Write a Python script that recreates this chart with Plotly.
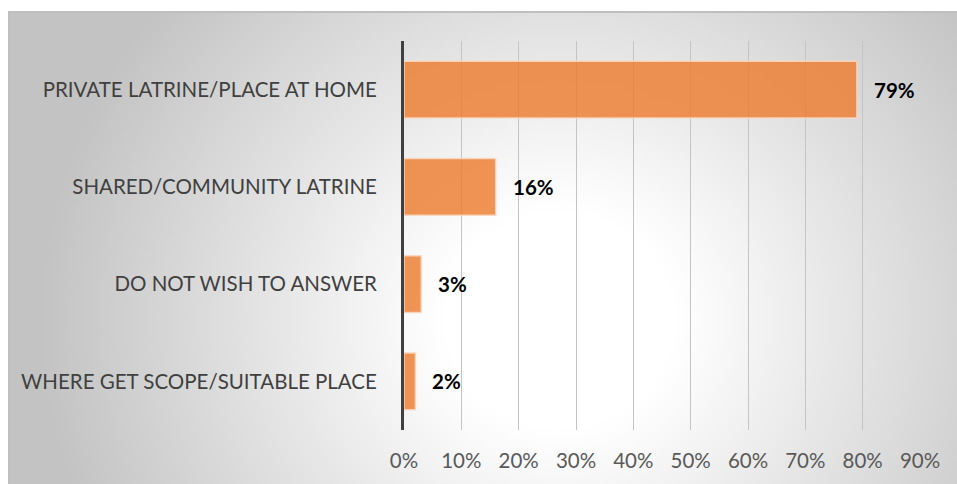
import base64
import plotly.graph_objects as go

# Survey responses: where household members go to the toilet
categories = [
    "PRIVATE LATRINE/PLACE AT HOME",
    "SHARED/COMMUNITY LATRINE",
    "DO NOT WISH TO ANSWER",
    "WHERE GET SCOPE/SUITABLE PLACE",
]
shares = [79, 16, 3, 2]  # percent of respondents
x_ticks = [0, 10, 20, 30, 40, 50, 60, 70, 80, 90]
x_tick_labels = [f"{v}%" for v in x_ticks]

W, H = 957, 484
ML, MR, MT, MB = 404, 37, 41, 54
PW, PH = W - ML - MR, H - MT - MB
FONT = "Lato"

# Chart-area backdrop: radial grey-to-white fill with a thin frame
svg = f"""<svg xmlns='http://www.w3.org/2000/svg' width='{W}' height='{H}' viewBox='0 0 {W} {H}' preserveAspectRatio='none'>
<defs>
<radialGradient id='g' gradientUnits='userSpaceOnUse' cx='560' cy='320' r='520'
  gradientTransform='translate(560 320) scale(1 0.95) translate(-560 -320)'>
<stop offset='0' stop-color='#ffffff'/>
<stop offset='0.22' stop-color='#ffffff'/>
<stop offset='1' stop-color='#c3c3c3'/>
</radialGradient>
</defs>
<rect x='0' y='0' width='{W}' height='{H}' fill='#ffffff'/>
<rect x='9' y='12' width='{W}' height='{H}' fill='url(#g)'/>
<line x1='9' y1='12' x2='{W}' y2='12' stroke='#bfbfbf' stroke-width='2'/>
<line x1='9' y1='11' x2='9' y2='{H}' stroke='#bfbfbf' stroke-width='2'/>
</svg>"""
bg_src = "data:image/svg+xml;base64," + base64.b64encode(svg.encode()).decode()

fig = go.Figure(
    go.Bar(
        x=shares,
        y=categories,
        orientation="h",
        marker=dict(
            color="rgba(237,125,49,0.82)",
            line=dict(color="rgba(250,215,190,0.9)", width=1.5),
        ),
        hoverinfo="skip",
    )
)

for cat, val in zip(categories, shares):
    fig.add_annotation(
        x=val, y=cat, text=f"{val}%", showarrow=False,
        xanchor="left", yanchor="middle", xshift=15,
        font=dict(family=FONT, size=20.5, color="#000000", weight="bold"),
    )

fig.add_layout_image(
    source=bg_src, xref="paper", yref="paper",
    x=-ML / PW, y=1 + MT / PH, sizex=W / PW, sizey=H / PH,
    xanchor="left", yanchor="top", sizing="stretch", layer="below",
)

fig.update_layout(
    width=W, height=H,
    margin=dict(l=ML, r=MR, t=MT, b=MB, pad=0),
    paper_bgcolor="white",
    plot_bgcolor="rgba(0,0,0,0)",
    bargap=0.415,
    showlegend=False,
    font=dict(family=FONT, size=20.5, color="#404040"),
    xaxis=dict(
        range=[0, 90], tickmode="array", tickvals=x_ticks, ticktext=x_tick_labels,
        showgrid=True, gridcolor="#c4c4c4", gridwidth=1,
        zeroline=False, showline=False, ticks="",
        tickfont=dict(family=FONT, size=20.5, color="#595959"),
        ticklabelstandoff=16, fixedrange=True,
    ),
    yaxis=dict(
        autorange="reversed", showgrid=False, zeroline=False,
        showline=True, linecolor="#404040", linewidth=3, ticks="",
        tickfont=dict(family=FONT, size=20.5, color="#404040"),
        ticklabelstandoff=20, fixedrange=True,
    ),
)

fig.write_html("out.html")
